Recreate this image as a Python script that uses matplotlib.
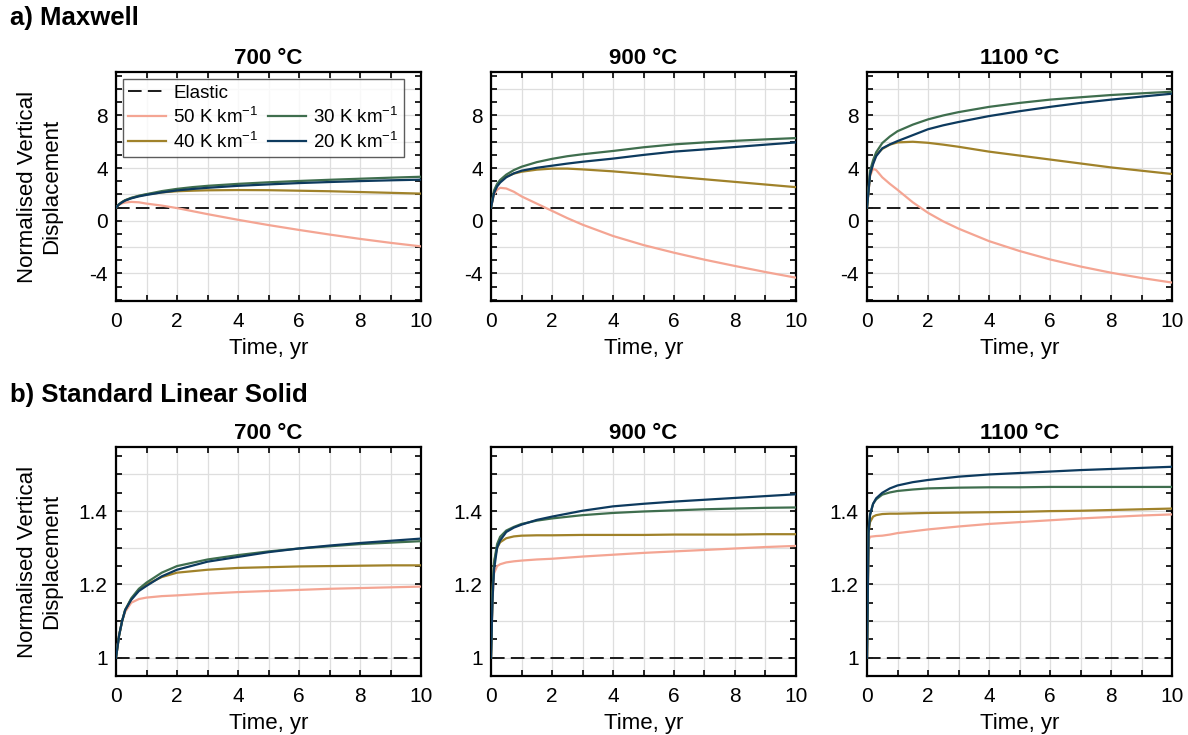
import numpy as np
import matplotlib
matplotlib.use("Agg")
import matplotlib.pyplot as plt
from matplotlib.ticker import MultipleLocator, FuncFormatter
from matplotlib.lines import Line2D

plt.rcParams["font.family"] = ["Liberation Sans", "DejaVu Sans"]
plt.rcParams["mathtext.fontset"] = "custom"
plt.rcParams["mathtext.rm"] = "Liberation Sans"

# ========== Данные ==========
temps = ["700 °C", "900 °C", "1100 °C"]
grads = ["50", "40", "30", "20"]
colors = {"50": "#F4A593", "40": "#A0822A", "30": "#3F6E4E", "20": "#0D3A5E"}

# a) Maxwell
t_mx = [0, 0.1, 0.2, 0.3, 0.5, 0.75, 1, 1.5, 2, 2.5, 3, 4, 5, 6, 7, 8, 9, 10]
mx_700 = {
    "50": [1.0, 1.2, 1.32, 1.38, 1.43, 1.40, 1.30, 1.15, 0.96, 0.73, 0.50, 0.07, -0.33, -0.70, -1.05, -1.38, -1.68, -1.95],
    "40": [1.0, 1.25, 1.42, 1.55, 1.72, 1.88, 2.00, 2.15, 2.24, 2.28, 2.31, 2.33, 2.32, 2.28, 2.24, 2.18, 2.12, 2.06],
    "30": [1.0, 1.25, 1.42, 1.56, 1.74, 1.90, 2.02, 2.25, 2.42, 2.55, 2.65, 2.80, 2.92, 3.02, 3.11, 3.19, 3.27, 3.34],
    "20": [1.0, 1.24, 1.40, 1.53, 1.70, 1.85, 1.96, 2.15, 2.30, 2.41, 2.50, 2.65, 2.76, 2.86, 2.94, 3.01, 3.07, 3.12],
}
mx_900 = {
    "50": [1.0, 2.0, 2.35, 2.50, 2.45, 2.20, 1.85, 1.30, 0.75, 0.20, -0.30, -1.16, -1.85, -2.43, -2.96, -3.44, -3.90, -4.33],
    "40": [1.0, 2.2, 2.70, 3.00, 3.35, 3.58, 3.72, 3.88, 3.96, 3.96, 3.90, 3.75, 3.56, 3.35, 3.15, 2.95, 2.75, 2.55],
    "30": [1.0, 2.3, 2.80, 3.10, 3.50, 3.85, 4.10, 4.45, 4.70, 4.90, 5.05, 5.30, 5.58, 5.80, 5.95, 6.07, 6.18, 6.28],
    "20": [1.0, 2.1, 2.60, 2.90, 3.30, 3.60, 3.80, 4.02, 4.18, 4.34, 4.48, 4.72, 5.00, 5.25, 5.42, 5.60, 5.78, 5.95],
}
mx_1100 = {
    "50": [1.0, 3.4, 3.95, 3.85, 3.30, 2.80, 2.35, 1.40, 0.60, -0.05, -0.60, -1.55, -2.30, -2.94, -3.48, -3.95, -4.35, -4.70],
    "40": [1.0, 3.5, 4.40, 5.00, 5.45, 5.78, 5.95, 6.00, 5.92, 5.78, 5.62, 5.25, 4.95, 4.65, 4.35, 4.05, 3.80, 3.55],
    "30": [1.0, 3.8, 4.60, 5.20, 5.90, 6.40, 6.80, 7.30, 7.70, 8.00, 8.25, 8.65, 8.95, 9.20, 9.38, 9.55, 9.68, 9.80],
    "20": [1.0, 3.5, 4.30, 4.90, 5.50, 5.80, 6.05, 6.50, 6.95, 7.25, 7.50, 7.95, 8.32, 8.65, 8.95, 9.20, 9.43, 9.65],
}

# b) Standard Linear Solid
t_sls = [0, 0.05, 0.1, 0.2, 0.3, 0.5, 0.75, 1, 1.5, 2, 3, 4, 5, 6, 7, 8, 9, 10]
sls_700 = {
    "50": [1.0, 1.03, 1.06, 1.10, 1.125, 1.150, 1.160, 1.164, 1.168, 1.170, 1.175, 1.179, 1.182, 1.185, 1.188, 1.190, 1.192, 1.194],
    "40": [1.0, 1.03, 1.06, 1.10, 1.13, 1.160, 1.185, 1.200, 1.220, 1.232, 1.240, 1.245, 1.247, 1.249, 1.250, 1.251, 1.252, 1.252],
    "30": [1.0, 1.03, 1.06, 1.10, 1.13, 1.162, 1.188, 1.205, 1.232, 1.250, 1.268, 1.280, 1.290, 1.298, 1.304, 1.310, 1.314, 1.318],
    "20": [1.0, 1.03, 1.06, 1.10, 1.13, 1.158, 1.182, 1.196, 1.222, 1.240, 1.262, 1.275, 1.288, 1.298, 1.306, 1.313, 1.319, 1.325],
}
sls_900 = {
    "50": [1.0, 1.16, 1.23, 1.25, 1.255, 1.260, 1.263, 1.265, 1.268, 1.270, 1.276, 1.281, 1.286, 1.290, 1.294, 1.298, 1.302, 1.305],
    "40": [1.0, 1.18, 1.26, 1.30, 1.315, 1.326, 1.331, 1.333, 1.334, 1.334, 1.335, 1.335, 1.335, 1.336, 1.336, 1.336, 1.337, 1.337],
    "30": [1.0, 1.18, 1.26, 1.31, 1.330, 1.347, 1.357, 1.365, 1.374, 1.380, 1.389, 1.395, 1.399, 1.402, 1.405, 1.407, 1.409, 1.410],
    "20": [1.0, 1.16, 1.24, 1.30, 1.320, 1.343, 1.355, 1.363, 1.376, 1.385, 1.401, 1.413, 1.420, 1.426, 1.431, 1.436, 1.441, 1.446],
}
sls_1100 = {
    "50": [1.0, 1.32, 1.33, 1.331, 1.332, 1.333, 1.336, 1.340, 1.345, 1.350, 1.358, 1.365, 1.370, 1.375, 1.380, 1.384, 1.388, 1.391],
    "40": [1.0, 1.34, 1.37, 1.385, 1.389, 1.392, 1.393, 1.393, 1.394, 1.395, 1.396, 1.397, 1.398, 1.400, 1.401, 1.403, 1.405, 1.407],
    "30": [1.0, 1.35, 1.39, 1.42, 1.432, 1.445, 1.451, 1.455, 1.459, 1.462, 1.464, 1.465, 1.465, 1.466, 1.466, 1.466, 1.466, 1.466],
    "20": [1.0, 1.34, 1.39, 1.42, 1.435, 1.450, 1.462, 1.470, 1.479, 1.485, 1.494, 1.500, 1.504, 1.508, 1.512, 1.515, 1.518, 1.521],
}
elastic = 1.0
# ===============================

rows = [
    ("a) Maxwell", t_mx, [mx_700, mx_900, mx_1100]),
    ("b) Standard Linear Solid", t_sls, [sls_700, sls_900, sls_1100]),
]

fig = plt.figure(figsize=(11.88, 7.35), dpi=100)
W, H = 1188, 735
lefts = [116, 491, 867]
width = 305
tops = [72, 447]
height = 229


def style_axes(ax, maxwell):
    ax.set_xlim(0, 10)
    ax.xaxis.set_major_locator(MultipleLocator(1))
    ax.xaxis.set_major_formatter(FuncFormatter(lambda v, p: f"{v:g}" if int(round(v)) % 2 == 0 else ""))
    if maxwell:
        ax.set_ylim(-6.1, 11.3)
        ax.yaxis.set_major_locator(MultipleLocator(2))
        ax.yaxis.set_minor_locator(MultipleLocator(1))
        ax.yaxis.set_major_formatter(FuncFormatter(lambda v, p: f"{v:g}" if int(round(v)) % 4 == 0 else ""))
    else:
        ax.set_ylim(0.95, 1.575)
        ax.yaxis.set_major_locator(MultipleLocator(0.1))
        ax.yaxis.set_minor_locator(MultipleLocator(0.05))
        ax.yaxis.set_major_formatter(FuncFormatter(lambda v, p: f"{v:g}" if int(round(v * 10)) % 2 == 0 else ""))
    ax.grid(True, which="major", color="#DEDEDE", lw=0.9)
    ax.set_axisbelow(True)
    ax.tick_params(which="both", direction="in", top=True, right=True, width=1.2,
                   labelsize=15, colors="black", length=4)
    ax.tick_params(axis="x", pad=8)
    ax.tick_params(axis="y", pad=6)
    for s in ax.spines.values():
        s.set_linewidth(1.6)
    ax.set_xlabel("Time, yr", fontsize=16, labelpad=5)


for r, (row_title, t, sets) in enumerate(rows):
    maxwell = r == 0
    for c in range(3):
        ax = fig.add_axes([lefts[c] / W, 1 - (tops[r] + height) / H, width / W, height / H])
        ax.axhline(elastic, color="#1A1A1A", ls=(0, (7, 3.2)), lw=1.4, label="Elastic", zorder=2)
        data = sets[c]
        for g in grads:
            ax.plot(t, data[g], color=colors[g], lw=1.6, label=f"{g} K km$^{{-1}}$", zorder=3)
        style_axes(ax, maxwell)
        ax.set_title(temps[c], fontsize=16, fontweight="bold", pad=6)
        if c == 0:
            ax.set_ylabel("Normalised Vertical\nDisplacement", fontsize=16)
            ax.yaxis.set_label_coords(-0.177, 0.5)
        if maxwell and c == 0:
            h = {l.get_label(): l for l in ax.get_lines()}
            blank = Line2D([], [], color="none")
            handles = [h["Elastic"], h["50 K km$^{-1}$"], h["40 K km$^{-1}$"],
                       blank, h["30 K km$^{-1}$"], h["20 K km$^{-1}$"]]
            labels = ["Elastic", "50 K km$^{-1}$", "40 K km$^{-1}$",
                      "", "30 K km$^{-1}$", "20 K km$^{-1}$"]
            leg = ax.legend(handles, labels, ncol=2, loc="upper left",
                            bbox_to_anchor=(0.022, 0.969), fontsize=13.5,
                            frameon=True, fancybox=False, edgecolor="#333333",
                            handlelength=2.0, handletextpad=0.4, columnspacing=0.5,
                            labelspacing=0.22, borderpad=0.3, borderaxespad=0)
            leg.get_frame().set_linewidth(1.0)
    fig.text(10 / W, 1 - (18 if maxwell else 395) / H, row_title, fontsize=18.5,
             fontweight="bold", va="center", ha="left")

fig.savefig("out.png", dpi=100, facecolor="white")
